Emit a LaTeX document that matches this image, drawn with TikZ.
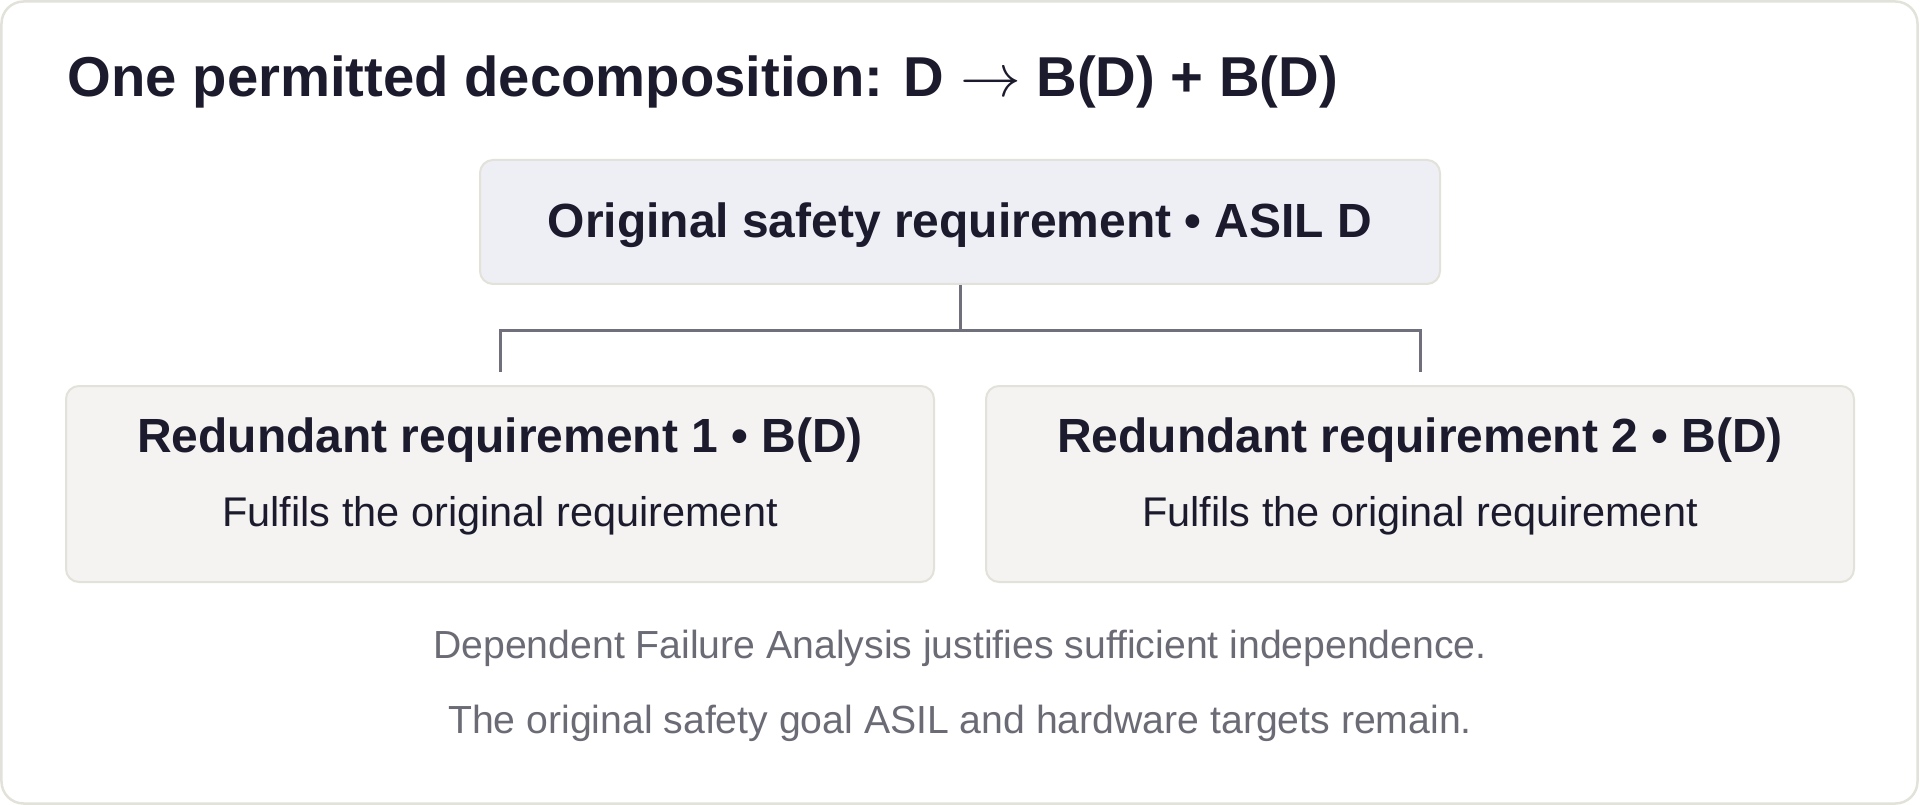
\documentclass[tikz,border=0pt]{standalone}
\usepackage{fontspec}
\setmainfont{Liberation Sans}
\usetikzlibrary{positioning}

\definecolor{ink}{HTML}{1C1B2E}
\definecolor{edgegray}{HTML}{E2E2DA}
\definecolor{origfill}{HTML}{EEEEF5}
\definecolor{redfill}{HTML}{F4F3F1}
\definecolor{wiregray}{HTML}{70707C}
\definecolor{notegray}{HTML}{6B6B76}

\tikzset{
  reqbox/.style = {draw = edgegray, line width = 0.2mm, rounded corners = 1.3mm,
                   inner sep = 0pt},
  headtext/.style = {inner sep = 0pt, anchor = base, text = ink,
                     font = \bfseries\fontsize{13.65}{16}\selectfont},
  subtext/.style = {inner sep = 0pt, anchor = base, text = ink,
                    font = \fontsize{11.8}{14}\selectfont},
  notetext/.style = {inner sep = 0pt, anchor = base, text = notegray,
                     font = \fontsize{11.15}{13}\selectfont},
  wire/.style = {draw = wiregray, line width = 0.3mm}
}

\begin{document}
\begin{tikzpicture}[x = {(0.1mm, 0mm)},
                    y = {(0mm, -0.1mm)}]
  \useasboundingbox (0, 0) rectangle (1920, 805);

  % outer card
  \draw[draw = edgegray, fill = white, line width = 0.25mm, rounded corners = 2.2mm]
    (1.5, 1.5) rectangle (1917.5, 803.5);

  % title
  \node[inner sep = 0pt, anchor = base west, text = ink,
        font = \bfseries\fontsize{16}{19}\selectfont] (title) at (67, 97)
    {One permitted decomposition: D $\rightarrow$ B(D) + B(D)};

  % original requirement
  \node[reqbox, fill = origfill, minimum width = 96mm, minimum height = 12.4mm]
    (orig) at (960, 222) {};
  \node[headtext] (origtext) at (960, 238) {Original safety requirement • ASIL D};

  % redundant requirements
  \node[reqbox, fill = redfill, minimum width = 86.8mm, minimum height = 19.6mm]
    (redA) at (500, 484) {};
  \node[reqbox, fill = redfill, minimum width = 86.8mm, minimum height = 19.6mm]
    (redB) at (1420, 484) {};
  \node[headtext] (redAhead) at (500, 452) {Redundant requirement 1 • B(D)};
  \node[subtext]  (redAsub)  at (500, 526) {Fulfils the original requirement};
  \node[headtext] (redBhead) at (1420, 452) {Redundant requirement 2 • B(D)};
  \node[subtext]  (redBsub)  at (1420, 526) {Fulfils the original requirement};

  % split connector
  \coordinate (split) at (960, 331);
  \coordinate (footA) at (500, 372);
  \coordinate (footB) at (1420, 372);
  \draw[wire] (orig.south) -- (split);
  \draw[wire] (footA) |- (split) -| (footB);

  % notes
  \node[notetext] (noteA) at (960, 658)
    {Dependent Failure Analysis justifies sufficient independence.};
  \node[notetext] (noteB) at (960, 733)
    {The original safety goal ASIL and hardware targets remain.};
\end{tikzpicture}
\end{document}
